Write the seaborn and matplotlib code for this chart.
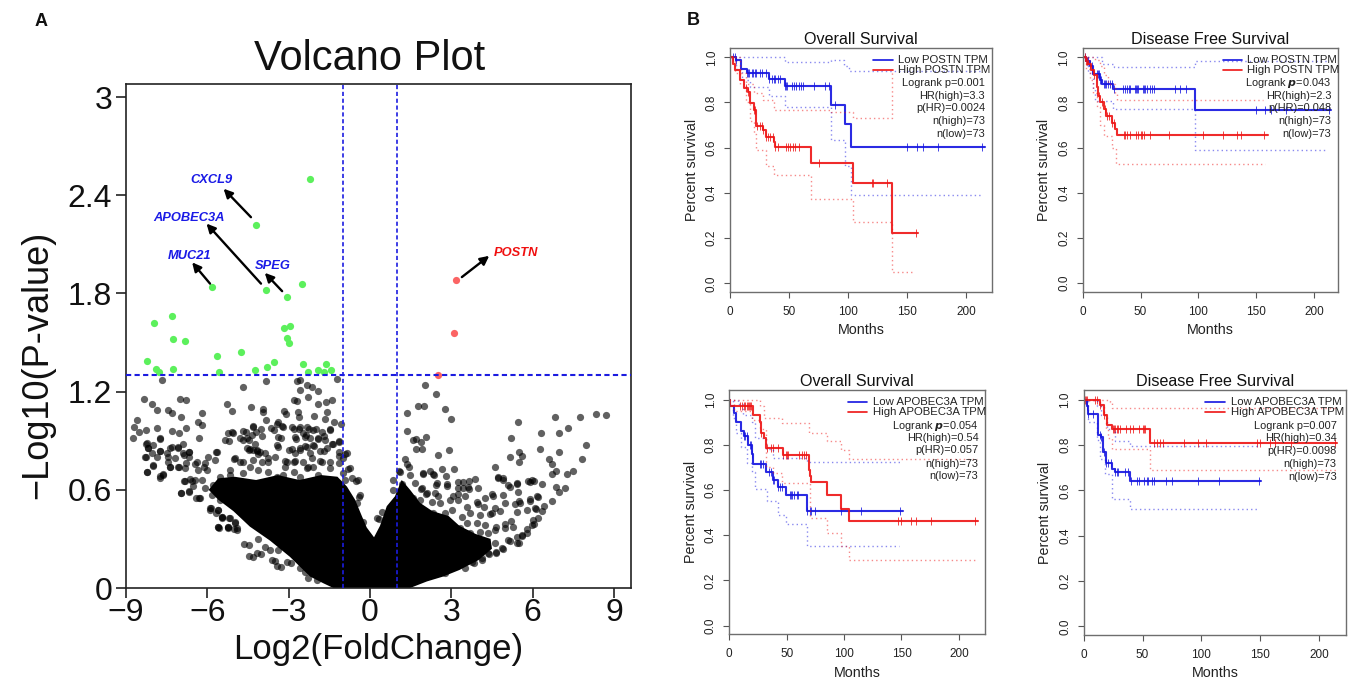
import matplotlib
matplotlib.use('Agg')
import numpy as np
import matplotlib.pyplot as plt
import seaborn as sns

W, H = 1349, 682

# volcano plot, values
green_x = [-2.23, -4.21, -5.81, -3.84, -3.06, -2.52, -7.97, -7.32, -7.25, -6.83, -3.18, -2.94, -3.06, -3.0, -8.22, -7.9, -7.8, -7.25, -5.63, -5.57, -4.74, -4.25, -3.78, -3.53, -2.46, -2.28, -1.93, -1.62, -1.43, -1.68]
green_y = [2.50, 2.22, 1.84, 1.82, 1.78, 1.86, 1.62, 1.66, 1.52, 1.51, 1.59, 1.60, 1.53, 1.50, 1.39, 1.34, 1.32, 1.34, 1.42, 1.32, 1.44, 1.33, 1.35, 1.38, 1.37, 1.32, 1.33, 1.37, 1.33, 1.32]
red_x = [3.17, 3.11, 2.52]
red_y = [1.88, 1.56, 1.30]

# sparse grey points above and around the dense mass
grey_x = [-8.33, -8.04, -7.85, -7.67, -7.0, -6.79, -7.44, -7.31, -6.96, -6.18, -6.33, -6.18, -8.59, -8.69, -8.51, -8.75, -8.28, -7.85, -7.31, -7.05, -6.78, -6.3, -7.74, -8.25, -8.2, -7.74, -7.36, -7.08, -8.28, -7.85, -7.44, -6.87, -6.67, -8.0, -8.24, -7.74, -7.62, -7.36, -7.05, -6.82, -6.96, -6.66, -6.82, -6.44, -6.13, -5.68,
          -5.28, -5.09, -4.67, -4.38, -3.96, -3.96, -3.84, -3.84, -3.18, -3.1, -2.68, -2.59, -2.57, -2.34, -2.12, -1.93, -2.28, -2.8, -2.69, -1.93, -1.63, -1.39, -1.2, -2.65, -2.06, -2.62, -1.57, -1.66, -1.31, -1.08, -3.4, -3.2, -3.55, -4.03, -4.3, -4.57, -5.04, -5.2, -4.7, -4.45, -4.0, -3.27, -2.8, -2.6, -2.24, -1.98, -1.48, -2.74, -2.35, -1.93, -1.7, -1.39, -1.16,
          -4.48, -4.17, -3.4, -2.98, -2.57, -2.33, -2.07, -1.7, -5.0, -4.7, -4.13, -3.76, -3.15, -2.81, -2.3, -1.85, -1.16, -0.93, -0.8, -0.5, -0.4,
          2.04, 2.45, 1.79, 1.98, 2.76, 1.38, 3.0, 1.38, 2.08, 1.69, 1.58, 1.9, 1.93, 1.69, 2.93, 2.5, 1.28, 1.35, 1.43, 1.06, 2.2, 1.97, 2.35, 2.66, 3.1, 2.81, 2.42, 1.88, 2.86, 3.23, 3.65, 3.23, 3.42, 3.65, 2.05, 2.5, 3.07, 3.5, 4.54, 4.61, 4.73, 4.92, 5.16, 5.42, 5.16, 5.5, 5.62, 5.5, 5.22, 5.46, 6.3, 6.27, 6.96, 6.83, 7.31, 7.74, 8.35, 8.7, 7.96, 7.83, 6.96, 6.6, 6.72, 6.88, 7.27, 7.5, 6.72, 6.35, 5.89, 6.04, 6.88, 7.19, 6.96, 6.72, 6.35, 6.19, 5.92, 6.43, 6.12, 6.2, 6.04, 5.8, 5.62, 5.5, 5.16, 4.92, 4.66, 4.4, 4.12, 3.82, 5.5, 5.35, 5.2, 4.97, 4.66, 4.81, 4.43, 4.2, 3.97,
          -5.57, -5.25, -5.0, -4.48, -4.33, -4.03, -3.5, -3.3, -2.9, -5.9, -5.68, -5.45, -6.3, -6.55]
grey_y = [1.155, 1.125, 1.09, 1.27, 1.155, 1.147, 1.09, 1.067, 1.047, 1.067, 1.012, 0.996, 1.027, 0.986, 0.951, 0.916, 0.965, 0.975, 0.957, 0.945, 0.975, 0.916, 0.91, 0.88, 0.855, 0.84, 0.855, 0.855, 0.8, 0.8, 0.8, 0.81, 0.83, 0.747, 0.706, 0.675, 0.69, 0.737, 0.737, 0.733, 0.578, 0.588, 0.655, 0.757, 0.737, 0.83,
          1.125, 1.084, 1.227, 1.104, 1.094, 1.073, 1.027, 1.267, 1.084, 1.063, 1.267, 1.273, 1.21, 1.243, 1.227, 1.206, 1.165, 1.149, 1.145, 1.125, 1.135, 1.149, 1.28, 1.073, 1.053, 1.043, 1.073, 1.033, 1.012, 1.002, 1.012, 0.986, 0.965, 0.971, 0.986, 0.951, 0.945, 0.9, 0.906, 0.904, 0.93, 0.916, 0.971, 0.971, 0.971, 0.971, 0.965, 0.91, 0.937, 0.91, 0.93, 0.88, 0.9,
          0.843, 0.839, 0.863, 0.843, 0.843, 0.863, 0.87, 0.84, 0.788, 0.767, 0.818, 0.767, 0.778, 0.773, 0.74, 0.778, 0.808, 0.818, 0.727, 0.655, 0.557,
          1.24, 1.186, 1.114, 1.114, 1.094, 1.067, 1.035, 0.957, 0.924, 0.91, 0.904, 0.89, 0.849, 0.849, 0.845, 0.814, 0.788, 0.757, 0.737, 0.716, 0.712, 0.696, 0.692, 0.727, 0.727, 0.686, 0.63, 0.604, 0.624, 0.645, 0.655, 0.61, 0.61, 0.604, 0.573, 0.563, 0.563, 0.563, 0.563, 0.737, 0.675, 0.659, 0.618, 0.635, 0.798, 0.829, 0.808, 0.767, 0.916, 1.014, 0.947, 0.849, 0.947, 1.047, 0.975, 1.047, 1.065, 1.055, 0.876, 0.788, 0.829, 0.788, 0.757, 0.716, 0.696, 0.716, 0.696, 0.635, 0.645, 0.651, 0.618, 0.614, 0.588, 0.529, 0.471, 0.557, 0.533, 0.502, 0.482, 0.43, 0.39, 0.359, 0.318, 0.278, 0.288, 0.237, 0.212, 0.206, 0.171, 0.155, 0.533, 0.512, 0.41, 0.39, 0.37, 0.471, 0.451, 0.492, 0.512,
          0.369, 0.369, 0.36, 0.261, 0.19, 0.21, 0.165, 0.129, 0.155, 0.476, 0.461, 0.43, 0.553, 0.655]

left_x = [-8.24, -8.18, -7.75, -7.99, -7.75, -8.05, -8.30, -7.99, -8.24, -7.75, -7.62, -7.5, -7.44, -7.38, -7.31, -7.07, -7.19, -6.88, -6.91, -6.66, -6.66, -6.79, -7.07, -6.39, -6.33, -5.96, -6.08, -5.65, -5.71, -6.02, -5.53, -6.86, -6.64, -6.45, -6.21, -6.52, -6.66, -6.98, -6.42, -6.27, -6.08, -5.78, -5.84, -5.53, -5.87, -5.59, -5.47, -5.19, -5.59, -5.22, -4.97, -4.92, -5.16, -4.98, -4.79, -4.42, -5.16, -4.67, -5.35, -5.22, -5.1, -4.69, -4.79, -4.52, -4.36, -4.55, -4.42,
          -5.9, -5.6, -5.47, -5.6, -5.23, -5.16, -4.98, -4.89, -4.63, -4.45, -4.16, -4.12, -3.87, -3.6, -3.44, -3.07, -2.58, -2.4, -1.97, -2.27, -3.38, -3.69]
left_y = [0.884, 0.853, 0.914, 0.873, 0.839, 0.822, 0.802, 0.751, 0.71, 0.684, 0.696, 0.822, 0.771, 0.741, 0.863, 0.863, 0.792, 0.883, 0.822, 0.833, 0.798, 0.761, 0.741, 0.771, 0.72, 0.802, 0.761, 0.833, 0.782, 0.72, 0.68, 0.653, 0.664, 0.659, 0.659, 0.623, 0.594, 0.582, 0.547, 0.553, 0.609, 0.629, 0.568, 0.537, 0.486, 0.476, 0.435, 0.425, 0.374, 0.374, 0.405, 0.364, 0.72, 0.792, 0.771, 0.741, 0.69, 0.70, 0.904, 0.949, 0.955, 0.961, 0.914, 0.914, 0.934, 0.853, 0.847,
          0.487, 0.477, 0.436, 0.375, 0.375, 0.426, 0.395, 0.355, 0.267, 0.196, 0.216, 0.298, 0.253, 0.171, 0.135, 0.157, 0.12, 0.1, 0.049, 0.06, 0.232, 0.232]

# top of the left lobe, just left of the -1 line
top_x = [-4.30, -4.2, -4.24, -4.15, -4.33, -3.87, -3.99, -4.33, -3.75, -3.5, -3.66, -3.44, -3.26, -2.89, -2.58, -2.31, -2.09, -1.78, -1.47, -2.46, -2.76, -2.39, -2.21, -1.9, -1.66, -1.37, -1.16, -3.44, -3.38, -2.89, -2.58, -2.39, -2.09, -1.84, -1.59, -1.16, -0.86, -4.05, -2.76, -2.21, -3.07, -2.76, -2.46, -2.15, -1.78, -1.47, -1.16, -0.98, -3.13, -2.82, -2.33, -2.09, -1.47, -0.98, -0.73, -4.12, -3.75, -3.19, -2.58, -1.9, -3.44, -0.67, -0.45, -0.92, -0.37, -0.49, -0.24]
top_y = [0.989, 0.955, 0.883, 0.843, 0.843, 0.822, 0.771, 0.782, 0.792, 0.802, 0.975, 1.0, 0.989, 0.981, 0.985, 0.981, 0.965, 0.955, 0.969, 0.949, 0.924, 0.924, 0.914, 0.914, 0.904, 0.883, 0.894, 0.873, 0.924, 0.847, 0.853, 0.867, 0.873, 0.839, 0.853, 0.833, 0.822, 0.832, 0.822, 0.822, 0.771, 0.778, 0.771, 0.792, 0.771, 0.771, 0.761, 0.792, 0.741, 0.71, 0.731, 0.741, 0.731, 0.70, 0.731, 0.72, 0.71, 0.69, 0.68, 0.69, 0.68, 0.67, 0.66, 0.66, 0.568, 0.517, 0.405]

# right flank
right_x = [0.25, 0.43, 0.34, 0.84, 0.86, 1.17, 1.23, 1.35, 1.6, 1.85, 2.09, 2.4, 1.91, 2.34, 2.46, 2.85, 1.97, 1.11, 1.48, 1.66, 3.26, 3.44, 3.63, 3.87, 4.0, 2.95, 3.26, 3.57, 3.94, 4.24, 4.49, 4.92, 4.74, 4.92, 5.1, 5.41, 5.47, 5.84, 5.99, 6.15, 5.9, 5.54, 4.98, 4.61, 4.49, 4.06, 3.69, 3.38, 3.01, 2.58, 2.28, 2.77, 2.34, 5.78, 6.09, 5.41, 5.29, 4.98, 4.61, 4.24, 3.94, 3.57, 3.32, 3.69, 4.06, 4.37, 6.03, 5.97, 5.78, 5.6, 5.41, 5.1, 5.41, 4.86, 4.61, 4.65, 4.37, 4.3, 4.06, 4.12, 3.75, 3.51, 2.77]
right_y = [0.426, 0.466, 0.42, 0.66, 0.6, 0.635, 0.609, 0.548, 0.548, 0.538, 0.578, 0.578, 0.609, 0.697, 0.64, 0.635, 0.705, 0.711, 0.69, 0.64, 0.574, 0.65, 0.619, 0.664, 0.609, 0.538, 0.538, 0.497, 0.528, 0.548, 0.574, 0.568, 0.68, 0.67, 0.629, 0.64, 0.589, 0.656, 0.66, 0.562, 0.542, 0.517, 0.517, 0.487, 0.456, 0.446, 0.456, 0.436, 0.477, 0.517, 0.527, 0.456, 0.456, 0.477, 0.487, 0.466, 0.375, 0.365, 0.354, 0.385, 0.395, 0.395, 0.365, 0.334, 0.344, 0.334, 0.416, 0.385, 0.334, 0.324, 0.314, 0.293, 0.273, 0.242, 0.273, 0.222, 0.212, 0.257, 0.232, 0.181, 0.161, 0.124, 0.09]

# outline of the solid black mass at the bottom of the volcano
mass_x = [-1.35, -1.72, -2.21, -2.95, -3.69, -4.43, -5.04, -5.6, -5.95, -5.6, -5.0, -4.2, -3.4, -2.6, -1.8, -1.2, -0.85, -0.55, -0.3, -0.12, 0.15, 0.37, 0.62, 0.92, 1.17, 1.48, 1.85, 2.3, 2.9, 3.3, 3.9, 4.45, 4.5, 4.0, 3.3, 2.7, 2.1, 1.48]
mass_y = [0.0, 0.029, 0.07, 0.19, 0.29, 0.375, 0.47, 0.54, 0.6, 0.67, 0.68, 0.66, 0.69, 0.66, 0.69, 0.68, 0.62, 0.54, 0.44, 0.37, 0.31, 0.38, 0.5, 0.56, 0.66, 0.6, 0.52, 0.47, 0.44, 0.38, 0.33, 0.3, 0.24, 0.17, 0.11, 0.07, 0.04, 0.0]

volcano_xticks = [-9, -6, -3, 0, 3, 6, 9]
volcano_yticks = [0, 0.6, 1.2, 1.8, 2.4, 3]
volcano_ylabels = ['0', '0.6', '1.2', '1.8', '2.4', '3']
thresh_p = 1.3
thresh_fc = [-1, 1]

gene_names = ['CXCL9', 'APOBEC3A', 'MUC21', 'SPEG', 'POSTN']
gene_x = [-5.86, -6.69, -6.64, -3.58, 5.39]
gene_y = [2.495, 2.264, 2.03, 1.97, 2.05]
gene_cols = ['#1a1ae6', '#1a1ae6', '#1a1ae6', '#1a1ae6', '#f01010']
arrow_from_x = [-4.39, -4.02, -5.9, -3.24, 3.39]
arrow_from_y = [2.266, 1.86, 1.86, 1.814, 1.90]
arrow_to_x = [-5.4, -6.03, -6.56, -3.88, 4.4]
arrow_to_y = [2.44, 2.227, 1.99, 1.926, 2.03]

# survival panels: step points, censor times, confidence bands
p1_low_x = [0, 5, 9, 14, 33, 46, 85, 97, 102, 216]
p1_low_y = [1.0, 0.986, 0.95, 0.93, 0.905, 0.875, 0.79, 0.705, 0.605, 0.605]
p1_low_cens = [2, 4, 5, 14, 15, 16, 18, 19, 21, 22, 25, 27, 30, 33, 35, 37, 38, 40, 42, 46, 47, 48, 52, 54, 56, 58, 60, 62, 71, 80, 84, 89, 150, 158, 163, 176, 213]
p1_low_up_x = [0, 46, 85, 96, 101, 213]
p1_low_up_y = [1.0, 0.98, 0.99, 0.96, 0.94, 0.94]
p1_low_lo_x = [0, 5, 10, 17, 33, 46, 85, 97, 102, 213]
p1_low_lo_y = [1.0, 0.95, 0.9, 0.87, 0.83, 0.78, 0.635, 0.52, 0.39, 0.39]
p1_high_x = [0, 2, 4, 8, 12, 15, 17, 20, 22, 28, 30, 37, 38, 68, 104, 137, 159]
p1_high_y = [1.0, 0.97, 0.944, 0.9, 0.863, 0.848, 0.796, 0.767, 0.696, 0.678, 0.646, 0.627, 0.605, 0.531, 0.442, 0.221, 0.221]
p1_high_cens = [13, 15, 20, 21, 23, 25, 27, 28, 30, 32, 34, 36, 38, 40, 47, 49, 51, 53, 55, 58, 75, 120, 121, 133, 157]
p1_high_up_x = [0, 8, 13, 20, 28, 37, 85, 104, 137, 138]
p1_high_up_y = [1.0, 0.93, 0.88, 0.84, 0.81, 0.767, 0.76, 0.73, 0.93, 0.93]
p1_high_lo_x = [0, 4, 8, 13, 17, 20, 22, 30, 37, 68, 104, 137, 155]
p1_high_lo_y = [1.0, 0.93, 0.88, 0.8, 0.72, 0.66, 0.59, 0.52, 0.48, 0.375, 0.27, 0.05, 0.05]

p2_low_x = [0, 3, 6, 9, 15, 17, 26, 97, 215]
p2_low_y = [1.0, 0.985, 0.96, 0.925, 0.9, 0.88, 0.86, 0.765, 0.765]
p2_low_cens = [2, 4, 5, 8, 12, 13, 14, 15, 16, 18, 19, 20, 22, 24, 25, 27, 35, 37, 38, 40, 41, 45, 46, 47, 48, 52, 53, 54, 56, 58, 60, 62, 80, 84, 89, 150, 158, 163, 176, 213]
p2_low_up_x = [0, 10, 17, 27, 97, 213]
p2_low_up_y = [1.0, 1.0, 0.97, 0.955, 0.985, 0.985]
p2_low_lo_x = [0, 5, 9, 11, 26, 97, 211]
p2_low_lo_y = [1.0, 0.93, 0.86, 0.805, 0.77, 0.59, 0.59]
p2_high_x = [0, 3, 5, 7, 10, 12, 13, 15, 18, 20, 25, 28, 30, 160]
p2_high_y = [1.0, 0.985, 0.97, 0.945, 0.92, 0.87, 0.83, 0.8, 0.77, 0.74, 0.71, 0.68, 0.655, 0.655]
p2_high_cens = [2, 3, 4, 6, 8, 10, 14, 17, 19, 21, 23, 25, 27, 36, 37, 38, 41, 46, 48, 50, 51, 53, 58, 75, 104, 121, 133, 137, 157]
p2_high_up_x = [0, 7, 11, 15, 18, 22, 28, 30, 156]
p2_high_up_y = [1.0, 1.0, 0.99, 0.96, 0.92, 0.88, 0.84, 0.81, 0.81]
p2_high_lo_x = [0, 3, 6, 9, 12, 15, 18, 25, 29, 158]
p2_high_lo_y = [1.0, 0.95, 0.9, 0.84, 0.78, 0.7, 0.65, 0.6, 0.525, 0.525]

p3_low_x = [0, 1, 4, 6, 10, 13, 16, 20, 21, 32, 38, 42, 49, 68, 151]
p3_low_y = [1.0, 0.97, 0.94, 0.9, 0.86, 0.84, 0.8, 0.76, 0.713, 0.68, 0.644, 0.614, 0.578, 0.505, 0.505]
p3_low_cens = [13, 14, 15, 18, 19, 20, 27, 28, 29, 35, 36, 38, 39, 42, 44, 46, 53, 54, 55, 56, 59, 60, 68, 70, 71, 75, 97, 115, 149]
p3_low_up_x = [0, 8, 12, 20, 22, 32, 38, 68, 150]
p3_low_up_y = [1.0, 0.98, 0.93, 0.9, 0.83, 0.78, 0.74, 0.725, 0.725]
p3_low_lo_x = [0, 3, 6, 10, 15, 20, 22, 33, 42, 49, 68, 148]
p3_low_lo_y = [1.0, 0.92, 0.85, 0.79, 0.72, 0.68, 0.605, 0.55, 0.49, 0.45, 0.35, 0.35]
p3_high_x = [0, 1, 21, 27, 28, 30, 32, 47, 69, 70, 71, 85, 97, 104, 217]
p3_high_y = [1.0, 0.97, 0.932, 0.9, 0.85, 0.83, 0.785, 0.755, 0.69, 0.66, 0.635, 0.578, 0.518, 0.462, 0.462]
p3_high_cens = [9, 11, 13, 14, 15, 16, 17, 18, 19, 28, 33, 36, 38, 42, 47, 49, 50, 51, 61, 63, 65, 67, 147, 150, 158, 163, 176, 214]
p3_high_up_x = [0, 27, 30, 46, 69, 85, 97, 104, 216]
p3_high_up_y = [1.0, 0.97, 0.917, 0.898, 0.85, 0.817, 0.777, 0.735, 0.735]
p3_high_lo_x = [0, 4, 20, 27, 32, 38, 46, 70, 85, 97, 104, 215]
p3_high_lo_y = [1.0, 0.95, 0.91, 0.87, 0.7, 0.674, 0.63, 0.474, 0.408, 0.35, 0.29, 0.29]

p4_low_x = [0, 3, 4, 12, 15, 16, 19, 24, 27, 39, 151]
p4_low_y = [1.0, 0.97, 0.938, 0.843, 0.835, 0.77, 0.72, 0.695, 0.68, 0.643, 0.643]
p4_low_cens = [3, 4, 8, 14, 15, 17, 19, 21, 23, 27, 28, 29, 35, 38, 40, 45, 47, 51, 54, 55, 58, 60, 70, 75, 97, 115, 149]
p4_low_up_x = [0, 11, 15, 20, 27, 39, 148]
p4_low_up_y = [1.0, 0.97, 0.93, 0.87, 0.816, 0.794, 0.794]
p4_low_lo_x = [0, 4, 11, 14, 18, 24, 39, 148]
p4_low_lo_y = [1.0, 0.9, 0.82, 0.74, 0.67, 0.563, 0.519, 0.519]
p4_high_x = [0, 14, 17, 20, 24, 56, 215]
p4_high_y = [1.0, 0.978, 0.93, 0.887, 0.872, 0.81, 0.81]
p4_high_cens = [1, 2, 3, 10, 11, 14, 17, 25, 26, 27, 28, 29, 31, 36, 39, 42, 47, 50, 51, 52, 60, 62, 65, 67, 85, 97, 104, 147, 150, 158, 163, 176, 214]
p4_high_up_x = [0, 22, 24, 215]
p4_high_up_y = [1.0, 0.99, 0.963, 0.963]
p4_high_lo_x = [0, 14, 17, 19, 21, 24, 56, 215]
p4_high_lo_y = [1.0, 0.97, 0.93, 0.87, 0.83, 0.78, 0.688, 0.688]

months_ticks = [0, 50, 100, 150, 200]
surv_ticks = [0.0, 0.2, 0.4, 0.6, 0.8, 1.0]
stat_labels = [
    ['Logrank p=0.001', 'HR(high)=3.3', 'p(HR)=0.0024', 'n(high)=73', 'n(low)=73'],
    ['Logrank $\\boldsymbol{p}$=0.043', 'HR(high)=2.3', 'p(HR)=0.048', 'n(high)=73', 'n(low)=73'],
    ['Logrank $\\boldsymbol{p}$=0.054', 'HR(high)=0.54', 'p(HR)=0.057', 'n(high)=73', 'n(low)=73'],
    ['Logrank p=0.007', 'HR(high)=0.34', 'p(HR)=0.0098', 'n(high)=73', 'n(low)=73'],
]


def make_axes(fig, left, right, top, bottom):
    return fig.add_axes([left / W, 1 - bottom / H, (right - left) / W, (bottom - top) / H])


def draw_curve(ax, xs, ys, cens, up, lo, color):
    sns.lineplot(x=up[0], y=up[1], ax=ax, color=color, lw=1.0, ls=(0, (1, 2.2)), alpha=0.5,
                 drawstyle='steps-post', sort=False, estimator=None, errorbar=None)
    sns.lineplot(x=lo[0], y=lo[1], ax=ax, color=color, lw=1.0, ls=(0, (1, 2.2)), alpha=0.5,
                 drawstyle='steps-post', sort=False, estimator=None, errorbar=None)
    sns.lineplot(x=xs, y=ys, ax=ax, color=color, lw=1.5, alpha=0.9,
                 drawstyle='steps-post', sort=False, estimator=None, errorbar=None)
    idx = np.searchsorted(xs, cens, side='right') - 1
    sns.scatterplot(x=cens, y=np.array(ys)[idx], ax=ax, color=color, marker='|', s=40,
                    linewidth=0.7, alpha=0.8, legend=False)


def survival_panel(ax, title, gene, low, high, stats, line_x, text_x, stat_x, xmax):
    draw_curve(ax, *low, '#1414e0')
    draw_curve(ax, *high, '#ee1414')
    ax.set_xlim(0, xmax)
    ax.set_ylim(-0.0385, 1.041)
    ax.set_xticks(months_ticks)
    ax.set_yticks(surv_ticks)
    ax.set_yticklabels(['%.1f' % v for v in surv_ticks], rotation=90, va='center', fontsize=8.5, color='#222222')
    ax.tick_params(axis='x', labelsize=8.5, labelcolor='#222222', length=4, width=0.8, color='#555555', pad=6)
    ax.tick_params(axis='y', length=4, width=0.8, color='#555555', pad=5)
    for s in ax.spines.values():
        s.set_visible(True)
        s.set_color('#6e6e6e')
        s.set_linewidth(1.0)
    ax.set_title(title, fontsize=11.6, pad=3, color='#111111')
    ax.set_xlabel('Months', fontsize=10.3, labelpad=4, color='#222222')
    ax.set_ylabel('Percent survival', fontsize=10.3, labelpad=5, color='#222222')
    for yy, col, lab in [(0.99, '#1414e0', 'Low %s TPM' % gene), (0.945, '#ee1414', 'High %s TPM' % gene)]:
        ax.plot(line_x, [yy, yy], color=col, lw=1.2)
        ax.text(text_x, yy, lab, fontsize=8.2, va='center', ha='left', color='#222222')
    for yy, lab in zip([0.885, 0.83, 0.775, 0.717, 0.66], stats):
        ax.text(stat_x, yy, lab, fontsize=7.9, va='center', ha='right', color='#222222')


def main():
    sns.set_theme(style='ticks')
    plt.rcParams['font.family'] = ['Liberation Sans', 'DejaVu Sans']
    plt.rcParams['mathtext.fontset'] = 'custom'
    plt.rcParams['mathtext.bf'] = 'Liberation Sans:bold:italic'
    plt.rcParams['axes.unicode_minus'] = True

    fig = plt.figure(figsize=(W / 100, H / 100), dpi=100, facecolor='white')

    # panel A
    ax = make_axes(fig, 126, 631, 84, 588)
    ax.fill(mass_x, mass_y, color='black', lw=0, zorder=2)
    sns.scatterplot(x=grey_x + left_x + top_x + right_x, y=grey_y + left_y + top_y + right_y, ax=ax,
                    color='black', alpha=0.62, s=27, linewidth=0, legend=False, zorder=3)
    sns.scatterplot(x=green_x, y=green_y, ax=ax, color='#5cf05c', s=27, linewidth=0, legend=False, zorder=3)
    sns.scatterplot(x=red_x, y=red_y, ax=ax, color='#fb6464', s=27, linewidth=0, legend=False, zorder=3)
    ax.axhline(thresh_p, color='#1c1ce0', lw=1.5, ls=(0, (2.5, 1.6)), zorder=4)
    for v in thresh_fc:
        ax.axvline(v, color='#1c1ce0', lw=1.2, ls=(0, (2.5, 1.6)), zorder=4)
    for i, name in enumerate(gene_names):
        ax.text(gene_x[i], gene_y[i], name, color=gene_cols[i], fontsize=9.3, fontweight='bold',
                fontstyle='italic', ha='center', va='center')
        ax.annotate('', xy=(arrow_to_x[i], arrow_to_y[i]), xytext=(arrow_from_x[i], arrow_from_y[i]),
                    arrowprops=dict(arrowstyle='-|>', color='black', lw=1.7, mutation_scale=13,
                                    shrinkA=0, shrinkB=0))
    ax.set_xlim(-9, 9.63)
    ax.set_ylim(0, 3.08)
    ax.set_xticks(volcano_xticks)
    ax.set_yticks(volcano_yticks)
    ax.set_yticklabels(volcano_ylabels)
    ax.tick_params(labelsize=23, length=7, width=1.2, color='#222222', pad=3, labelcolor='#111111')
    ax.tick_params(axis='x', pad=0)
    for s in ax.spines.values():
        s.set_visible(True)
        s.set_color('#222222')
        s.set_linewidth(1.2)
    ax.set_title('Volcano Plot', fontsize=30, pad=10, color='#111111', x=0.483)
    ax.set_xlabel('Log2(FoldChange)', fontsize=25, labelpad=4, color='#111111')
    ax.set_ylabel('\u2212Log10(P-value)', fontsize=26, labelpad=9, color='#111111')
    ax.yaxis.label.set_y(0.442)

    fig.text(35 / W, 1 - 26 / H, 'A', fontsize=13, fontweight='bold', color='#111111')
    fig.text(687 / W, 1 - 25 / H, 'B', fontsize=13, fontweight='bold', color='#111111')

    # panel B
    ax1 = make_axes(fig, 730.3, 992.3, 48, 292)
    survival_panel(ax1, 'Overall Survival', 'POSTN',
                   (p1_low_x, p1_low_y, p1_low_cens, (p1_low_up_x, p1_low_up_y), (p1_low_lo_x, p1_low_lo_y)),
                   (p1_high_x, p1_high_y, p1_high_cens, (p1_high_up_x, p1_high_up_y), (p1_high_lo_x, p1_high_lo_y)),
                   stat_labels[0], [121, 138], 142, 216, 222)
    ax2 = make_axes(fig, 1082.7, 1338.3, 48, 291.7)
    survival_panel(ax2, 'Disease Free Survival', 'POSTN',
                   (p2_low_x, p2_low_y, p2_low_cens, (p2_low_up_x, p2_low_up_y), (p2_low_lo_x, p2_low_lo_y)),
                   (p2_high_x, p2_high_y, p2_high_cens, (p2_high_up_x, p2_high_up_y), (p2_high_lo_x, p2_high_lo_y)),
                   stat_labels[1], [121, 138], 142, 215, 221)
    ax3 = make_axes(fig, 729.3, 985.3, 390.3, 634.3)
    survival_panel(ax3, 'Overall Survival', 'APOBEC3A',
                   (p3_low_x, p3_low_y, p3_low_cens, (p3_low_up_x, p3_low_up_y), (p3_low_lo_x, p3_low_lo_y)),
                   (p3_high_x, p3_high_y, p3_high_cens, (p3_high_up_x, p3_high_up_y), (p3_high_lo_x, p3_high_lo_y)),
                   stat_labels[2], [103, 120], 125, 217, 223)
    ax4 = make_axes(fig, 1083.7, 1346, 390.3, 635)
    survival_panel(ax4, 'Disease Free Survival', 'APOBEC3A',
                   (p4_low_x, p4_low_y, p4_low_cens, (p4_low_up_x, p4_low_up_y), (p4_low_lo_x, p4_low_lo_y)),
                   (p4_high_x, p4_high_y, p4_high_cens, (p4_high_up_x, p4_high_up_y), (p4_high_lo_x, p4_high_lo_y)),
                   stat_labels[3], [103, 120], 125, 215, 223)

    fig.savefig('out.png', dpi=100)


if __name__ == '__main__':
    main()
